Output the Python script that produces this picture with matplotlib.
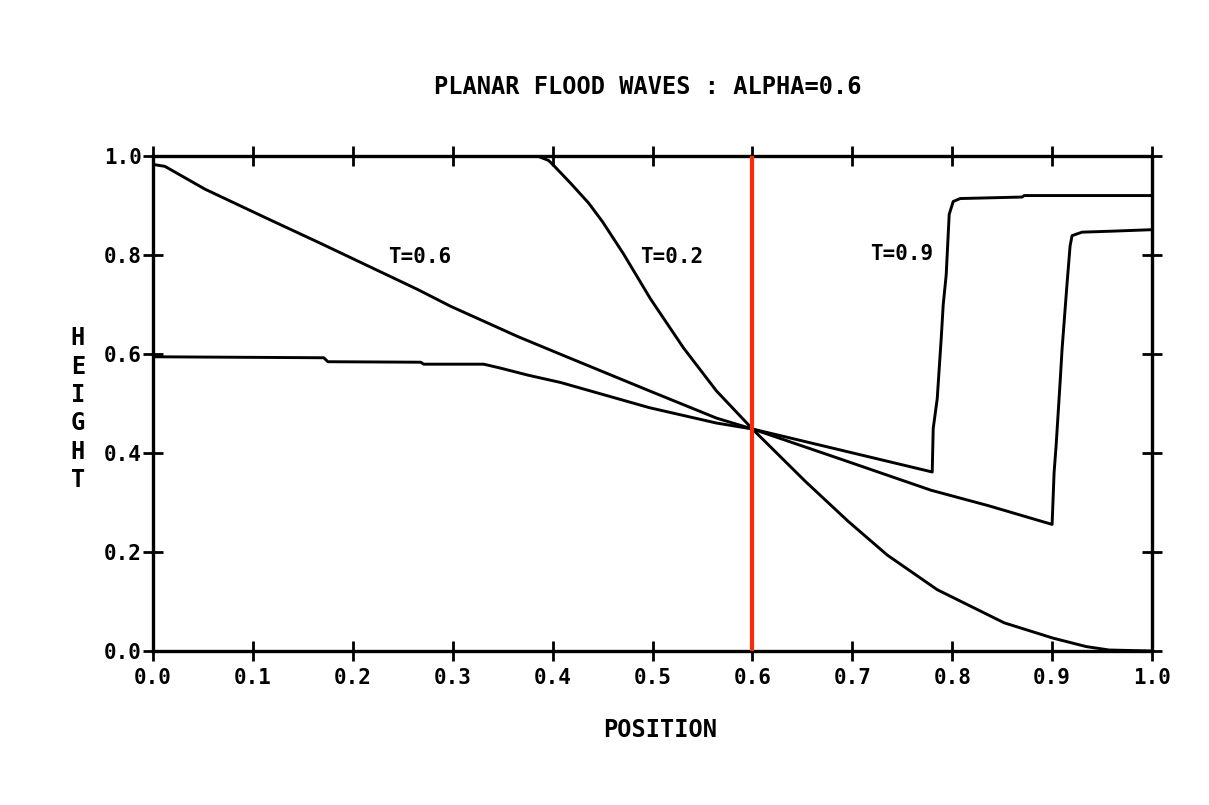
import matplotlib
matplotlib.use("Agg")
import matplotlib.pyplot as plt

# Wave height profiles h(x) at three times
x_t02 = [0.0, 0.386, 0.396, 0.401, 0.418, 0.436, 0.450, 0.471, 0.498, 0.531,
         0.564, 0.600, 0.653, 0.696, 0.735, 0.785, 0.852, 0.901, 0.934, 0.957, 1.0]
h_t02 = [1.0, 1.0, 0.992, 0.982, 0.946, 0.906, 0.868, 0.803, 0.712, 0.613,
         0.526, 0.449, 0.343, 0.262, 0.194, 0.124, 0.057, 0.026, 0.009, 0.002, 0.0]

x_t06 = [0.0, 0.012, 0.052, 0.116, 0.166, 0.215, 0.265, 0.298, 0.331, 0.365,
         0.408, 0.497, 0.564, 0.600, 0.687, 0.779, 0.836, 0.900,
         0.902, 0.904, 0.908, 0.910, 0.915, 0.918, 0.920, 0.930, 0.960, 1.0]
h_t06 = [0.984, 0.980, 0.934, 0.873, 0.826, 0.779, 0.731, 0.697, 0.667, 0.636,
         0.600, 0.526, 0.471, 0.449, 0.389, 0.325, 0.294, 0.256,
         0.361, 0.415, 0.543, 0.611, 0.744, 0.819, 0.840, 0.847, 0.849, 0.852]

x_t09 = [0.0, 0.171, 0.175, 0.268, 0.271, 0.331, 0.348, 0.375, 0.408, 0.497,
         0.564, 0.600, 0.687, 0.780, 0.781, 0.785, 0.789, 0.791, 0.794, 0.797,
         0.801, 0.808, 0.870, 0.872, 1.0]
h_t09 = [0.595, 0.593, 0.585, 0.584, 0.580, 0.580, 0.572, 0.558, 0.543, 0.492,
         0.461, 0.449, 0.407, 0.362, 0.450, 0.510, 0.632, 0.700, 0.761, 0.883,
         0.909, 0.915, 0.918, 0.921, 0.921]

curve_labels = ["T=0.6", "T=0.2", "T=0.9"]
label_x = [0.267, 0.519, 0.749]
label_y = [0.797, 0.797, 0.803]

marker_x = 0.6

x_ticks = [i / 10 for i in range(11)]
y_ticks = [i / 5 for i in range(6)]

title = "PLANAR FLOOD WAVES : ALPHA=0.6"
x_label = "POSITION"
y_label = "HEIGHT"

FONT = "DejaVu Sans Mono"

fig = plt.figure(figsize=(12.09, 8.05), dpi=100)
fig.patch.set_facecolor("white")
ax = fig.add_axes([153 / 1209, 1 - 651 / 805, 999 / 1209, 494.5 / 805])

lw = 2.1
for xs, hs in ((x_t02, h_t02), (x_t06, h_t06), (x_t09, h_t09)):
    ax.plot(xs, hs, color="black", lw=lw, solid_joinstyle="round",
            solid_capstyle="round")
ax.plot([marker_x, marker_x], [0, 1], color="#ff2a0a", lw=3.0, zorder=5)

for txt, tx, ty in zip(curve_labels, label_x, label_y):
    ax.text(tx, ty, txt, ha="center", va="center", fontsize=15,
            family=FONT, weight="bold")

ax.set_xlim(0, 1)
ax.set_ylim(0, 1)
ax.set_xticks(x_ticks)
ax.set_yticks(y_ticks)
ax.set_xticklabels([f"{v:.1f}" for v in x_ticks])
ax.set_yticklabels([f"{v:.1f}" for v in y_ticks])
ax.tick_params(direction="inout", length=15, width=2.0, top=True, right=True,
               labeltop=False, labelright=False, color="black")
ax.tick_params(axis="x", pad=4.5)
ax.tick_params(axis="y", pad=0.5)
for lab in ax.get_xticklabels() + ax.get_yticklabels():
    lab.set_fontfamily(FONT)
    lab.set_fontweight("bold")
    lab.set_fontsize(15)
for sp in ax.spines.values():
    sp.set_linewidth(2.4)
ax.set_facecolor("white")

fig.text(647.5 / 1209, 1 - 87 / 805, title, ha="center", va="center",
         fontsize=17, family=FONT, weight="bold")
fig.text(660 / 1209, 1 - 730 / 805, x_label, ha="center", va="center",
         fontsize=17, family=FONT, weight="bold")
for ch, py in zip(y_label, [338, 367, 395, 423, 452, 480]):
    fig.text(78 / 1209, 1 - py / 805, ch, ha="center", va="center",
             fontsize=17, family=FONT, weight="bold")

fig.savefig("out.png", dpi=100, facecolor="white")
